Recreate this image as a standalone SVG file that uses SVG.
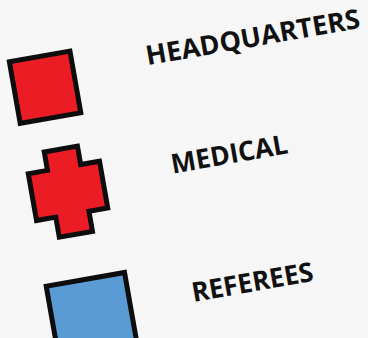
<svg xmlns="http://www.w3.org/2000/svg" width="368" height="338" viewBox="0 0 368 338">
  <defs>
    <filter id="paper" x="0" y="0" width="100%" height="100%">
      <feTurbulence type="fractalNoise" baseFrequency="0.9" numOctaves="2" seed="3" result="n"/>
      <feColorMatrix in="n" type="matrix" values="0 0 0 0 0.6  0 0 0 0 0.6  0 0 0 0 0.6  0 0 0 0.08 0" result="g"/>
      <feComposite in="g" in2="SourceGraphic" operator="over"/>
    </filter>
    <style>
      .sym { stroke: #0d0d0d; stroke-width: 5; stroke-linejoin: miter; }
      .red { fill: #ec1c24; }
      .blue { fill: #5b9bd5; }
      .lbl { font-family: "Open Sans", "Liberation Sans", sans-serif; font-weight: bold; font-size: 27px; fill: #111111; }
    </style>
  </defs>
  <rect x="0" y="0" width="368" height="338" fill="#f8f8f8" filter="url(#paper)"/>
  <g transform="rotate(-10)">
    <g id="headquarters">
      <rect class="sym red" x="-1.5" y="62.5" width="61.5" height="62.5"/>
      <text class="lbl" x="134" y="90" textLength="217" lengthAdjust="spacingAndGlyphs">HEADQUARTERS</text>
    </g>
    <g id="medical">
      <path class="sym red" d="M17.2,157.3 H50.9 V176 H70 V223.5 H50.9 V243.9 H17.2 V223.5 H-2.3 V176 H17.2 Z"/>
      <text class="lbl" x="140" y="201" textLength="118" lengthAdjust="spacingAndGlyphs">MEDICAL</text>
    </g>
    <g id="referees">
      <rect class="sym blue" x="-4.2" y="290" width="79.5" height="100"/>
      <text class="lbl" x="138" y="331" textLength="123" lengthAdjust="spacingAndGlyphs">REFEREES</text>
    </g>
  </g>
  <g id="connectors"/>
</svg>
